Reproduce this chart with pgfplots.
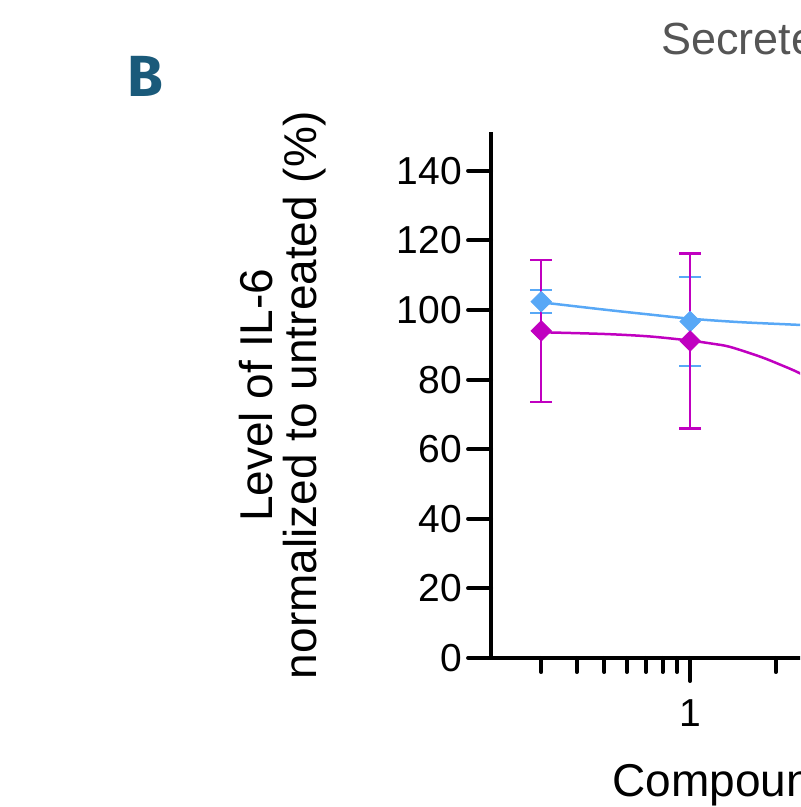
\documentclass[border=0pt]{standalone}
\usepackage{fontspec}
\setmainfont{Liberation Sans}
\newfontfamily\panelfont{Fira Sans}
\usepackage{pgfplots}
\pgfplotsset{compat=1.18}
\definecolor{il6blue}{RGB}{88,168,246}
\definecolor{il6mag}{RGB}{192,0,192}
\definecolor{panelblue}{RGB}{26,90,122}
\definecolor{titlegrey}{RGB}{85,85,85}

\begin{document}
\begin{tikzpicture}
% page = 800 x 807 px at 0.5pt per px
\useasboundingbox (0pt,0pt) rectangle (400pt,403.5pt);
\clip (0pt,0pt) rectangle (400pt,403.5pt);
\node[anchor=base west, inner sep=0pt, text=panelblue,
  font=\panelfont\bfseries\fontsize{29}{29}\selectfont] at (63.5pt,355pt) {B};
\node[anchor=base west, inner sep=0pt, text=titlegrey,
  font=\fontsize{22.5}{22.5}\selectfont] at (330.5pt,376pt) {Secreted IL-6};
\begin{semilogxaxis}[
    at={(245.5pt,74.5pt)}, anchor=south west,
    scale only axis, width=167.5pt, height=262.75pt,
    xmin=0.2, xmax=3, ymin=0, ymax=151,
    axis lines=left,
    axis line style={-, line width=2pt},
    tick align=outside,
    major tick length=11.5pt, minor tick length=7pt,
    tick style={line width=2pt, line cap=round, black},
    xtick={1,10}, xticklabels={1,10},
    minor xtick={0.3,0.4,0.5,0.6,0.7,0.8,0.9,2,3},
    ytick={0,20,...,140},
    /pgf/number format/assume math mode=true,
    ticklabel style={font=\fontsize{19.5}{19.5}\selectfont, inner sep=0pt},
    yticklabel style={xshift=-3pt},
    xticklabel style={yshift=-9pt},
    ylabel={Level of IL-6\\normalized to untreated (\%)},
    ylabel style={at={(rel axis cs:-0.4925,0.5)}, anchor=south, inner sep=0pt,
      align=center, font=\fontsize{23}{22}\selectfont},
    xlabel={Compound concentration (µM)},
    xlabel style={at={(rel axis cs:0.361,0)}, anchor=west, inner sep=0pt,
      yshift=-63.5pt, font=\fontsize{23}{23}\selectfont},
    clip=false,
]
% fitted curves
\addplot[il6blue, line width=1.25pt, smooth, tension=0.5, no markers] coordinates {
(0.3,102.2) (0.5,100.1) (0.72,98.7) (1,97.5) (1.5,96.5) (2.43,95.7) (3,95.2)
};
\addplot[il6mag, line width=1.25pt, smooth, tension=0.5, no markers] coordinates {
(0.3,93.6) (0.5,93.1) (0.72,92.4) (1,91.2) (1.2,90.3) (1.38,89.4) (1.76,86.6) (2.07,84.3) (2.43,81.8) (3,77.5)
};
% means with error bars
\addplot[il6blue, only marks, mark=square*, mark size=3.6pt, mark options={rotate=45},
  error bars/.cd, y dir=both, y explicit,
  error bar style={line width=1.25pt},
  error mark options={rotate=90, mark size=5.5pt, line width=1.25pt}] coordinates {
(0.3,102.4) +- (0,3.3)
(1,96.7) +- (0,12.8)
};
\addplot[il6mag, only marks, mark=square*, mark size=3.6pt, mark options={rotate=45},
  error bars/.cd, y dir=both, y explicit,
  error bar style={line width=1.25pt},
  error mark options={rotate=90, mark size=5.5pt, line width=1.25pt}] coordinates {
(0.3,94.0) +- (0,20.4)
(1,91.1) +- (0,25.2)
};
\end{semilogxaxis}
\end{tikzpicture}
\end{document}
